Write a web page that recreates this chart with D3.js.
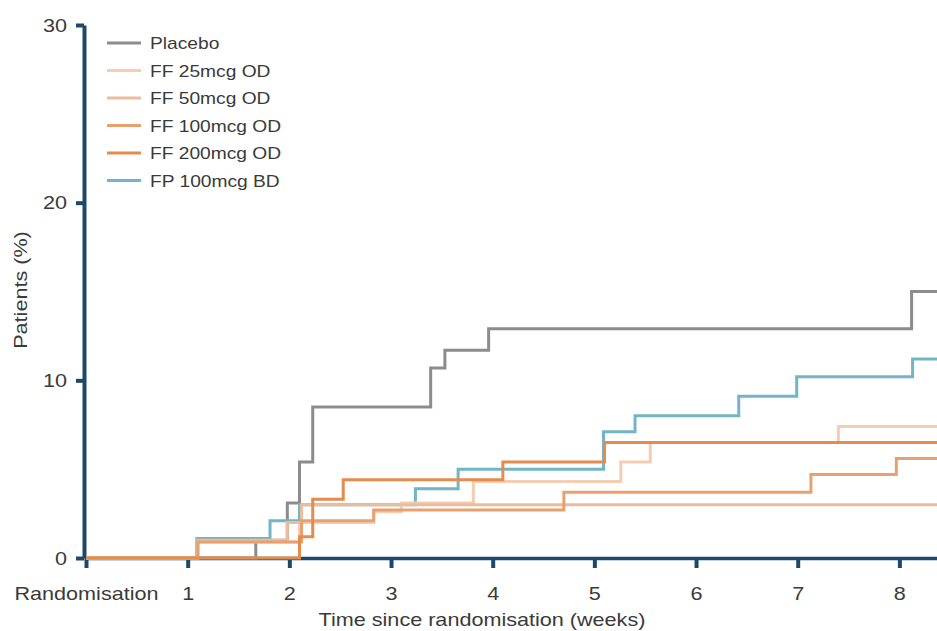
<!DOCTYPE html>
<html>
<head>
<meta charset="utf-8">
<script src="https://cdn.jsdelivr.net/npm/d3@7"></script>
<style>
  body { margin: 0; background: #fff; }
  text { font-family: "Liberation Sans", Arial, sans-serif; fill: #3a3a3a; }
</style>
</head>
<body>
<div class="chart"></div>
<script>
// series names and colours (legend order)
var seriesNames = ["Placebo", "FF 25mcg OD", "FF 50mcg OD", "FF 100mcg OD", "FF 200mcg OD", "FP 100mcg BD"];
var seriesColors = ["#8c8c8c", "#f4cdb2", "#ecbd9c", "#e8a06e", "#e58b4c", "#72b5c6"];

// step times (weeks) and cumulative % of patients after each step
var placeboWeeks = [0, 1.67, 1.98, 2.1, 2.23, 3.39, 3.53, 3.96, 8.12];
var placeboPct   = [0, 1.0, 3.1, 5.4, 8.5, 10.7, 11.7, 12.9, 15.0];

var ff25Weeks = [0, 1.1, 2.1, 2.83, 3.1, 3.81, 5.26, 5.55, 7.4];
var ff25Pct   = [0, 0.9, 2.0, 2.6, 3.1, 4.3, 5.4, 6.5, 7.4];

var ff50Weeks = [0, 1.1, 1.98, 2.12];
var ff50Pct   = [0, 1.0, 2.0, 3.0];

var ff100Weeks = [0, 1.1, 2.12, 2.83, 4.7, 7.13, 7.97];
var ff100Pct   = [0, 0.9, 2.1, 2.7, 3.7, 4.7, 5.6];

var ff200Weeks = [0, 2.1, 2.23, 2.53, 4.1, 5.1];
var ff200Pct   = [0, 1.2, 3.3, 4.4, 5.4, 6.5];

var fpWeeks = [0, 1.09, 1.81, 2.1, 3.24, 3.66, 5.09, 5.4, 6.42, 6.99, 8.13];
var fpPct   = [0, 1.1, 2.1, 3.0, 3.9, 5.0, 7.1, 8.0, 9.1, 10.2, 11.2];

var xTicks = [0, 1, 2, 3, 4, 5, 6, 7, 8];
var xTickLabels = ["Randomisation", "1", "2", "3", "4", "5", "6", "7", "8"];
var yTicks = [0, 10, 20, 30];

var width = 937, height = 631;
var xMax = 8.37;
var stretch = 1.2; // the source text is drawn a little wide

var x = d3.scaleLinear().domain([0, xMax]).range([86, 937]);
var y = d3.scaleLinear().domain([0, 30]).range([558, 25]);

var svg = d3.select(".chart").append("svg")
    .attr("width", width)
    .attr("height", height);

// x axis
var xAxis = svg.append("g")
    .attr("class", "xAxis")
    .attr("transform", "translate(0,558)")
    .call(d3.axisBottom(x)
        .tickValues(xTicks)
        .tickFormat(function (d, i) { return xTickLabels[i]; })
        .tickSize(10)
        .tickSizeOuter(0));
xAxis.select(".domain").attr("stroke", "#1d4968").attr("stroke-width", 3.5);
xAxis.selectAll(".tick line").attr("stroke", "#1d4968").attr("stroke-width", 4);
xAxis.selectAll(".tick text")
    .attr("y", null).attr("dy", null)
    .attr("transform", "translate(0,42) scale(" + stretch + ",1)")
    .style("font-size", "18px")
    .attr("fill", "#3a3a3a");

// y axis
var yAxis = svg.append("g")
    .attr("class", "yAxis")
    .attr("transform", "translate(84,0)")
    .call(d3.axisLeft(y)
        .tickValues(yTicks)
        .tickSize(8)
        .tickSizeOuter(0));
yAxis.select(".domain").attr("stroke", "#1d4968").attr("stroke-width", 4);
yAxis.selectAll(".tick line").attr("stroke", "#1d4968").attr("stroke-width", 4);
yAxis.selectAll(".tick text")
    .attr("x", null).attr("dy", null)
    .attr("transform", "translate(-17,6) scale(" + stretch + ",1)")
    .attr("text-anchor", "end")
    .style("font-size", "18px")
    .attr("fill", "#3a3a3a");

// axis titles
svg.append("text")
    .attr("transform", "translate(482,626) scale(" + stretch + ",1)")
    .attr("text-anchor", "middle")
    .style("font-size", "18px")
    .text("Time since randomisation (weeks)");

svg.append("text")
    .attr("transform", "translate(27,290) rotate(-90) scale(" + stretch + ",1)")
    .attr("text-anchor", "middle")
    .style("font-size", "18px")
    .text("Patients (%)");

// build step series
var allWeeks = [placeboWeeks, ff25Weeks, ff50Weeks, ff100Weeks, ff200Weeks, fpWeeks];
var allPct = [placeboPct, ff25Pct, ff50Pct, ff100Pct, ff200Pct, fpPct];

var series = seriesNames.map(function (name, i) {
    var pts = allWeeks[i].map(function (w, j) {
        return { week: w, pct: allPct[i][j] };
    });
    pts.push({ week: xMax, pct: allPct[i][allPct[i].length - 1] });
    return { name: name, color: seriesColors[i], points: pts };
});

var line = d3.line()
    .curve(d3.curveStepAfter)
    .x(function (d) { return x(d.week); })
    .y(function (d) { return y(d.pct); });

// drawing order: placebo, FP, then the FF doses
var drawOrder = [0, 5, 1, 2, 3, 4];
svg.append("g")
    .selectAll("path")
    .data(drawOrder.map(function (i) { return series[i]; }))
    .enter().append("path")
    .attr("fill", "none")
    .attr("stroke", function (d) { return d.color; })
    .attr("stroke-width", 3)
    .attr("d", function (d) { return line(d.points); });

// legend
var legend = svg.append("g")
    .selectAll("g")
    .data(series)
    .enter().append("g")
    .attr("transform", function (d, i) { return "translate(107," + (43 + i * 27.5) + ")"; });

legend.append("line")
    .attr("x1", 0).attr("x2", 34)
    .attr("stroke", function (d) { return d.color; })
    .attr("stroke-width", 3);

legend.append("text")
    .attr("transform", "translate(43,6) scale(" + stretch + ",1)")
    .style("font-size", "16px")
    .text(function (d) { return d.name; });
</script>
</body>
</html>
